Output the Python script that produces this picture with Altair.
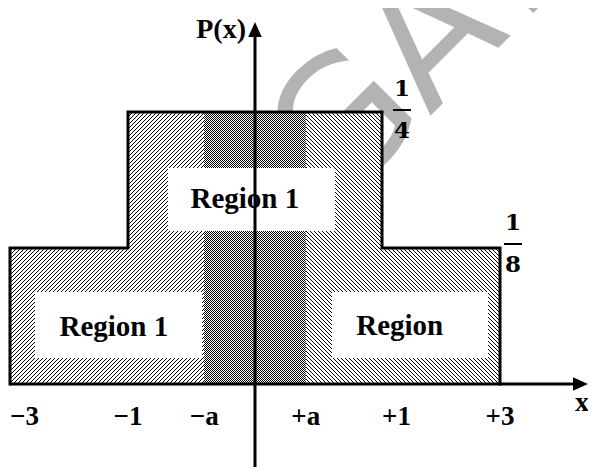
import math
import numpy as np
import pandas as pd
import altair as alt

# ---------------- data ----------------
breaks = [-3, -1, 1, 3]            # x break points of P(x)
levels = [1 / 8, 1 / 4, 1 / 8]     # P(x) on each interval
level_num = ["1", "1", "1"]
level_den = ["8", "4", "8"]
a_val = 0.4                         # half width of the shaded band
tick_values = [-3, -1, -a_val, a_val, 1, 3]
tick_labels = ["−3", "−1", "−a", "+a", "+1", "+3"]
tick_align = ["left", "center", "center", "center", "left", "center"]

region_texts = ["Region 1", "Region 1", "Region"]
region_x = [-0.08, -1.24, 1.30]
region_y = [0.162, 0.044, 0.045]
box_x0 = [-0.685, -2.576, 0.606]
box_x1 = [0.630, -0.417, 2.797]
box_y0 = [0.1406, 0.0239, 0.0239]
box_y1 = [0.1985, 0.0846, 0.0846]

# ---------------- layout / style ----------------
W, H = 580, 459
X_DOM, X_RNG = [-3, -1, 1, 3], [2, 120, 374, 492]
Y_DOM, Y_RNG = [0, 0.25], [376, 104]
xs = alt.Scale(domain=X_DOM, range=X_RNG, zero=False, nice=False)
ys = alt.Scale(domain=Y_DOM, range=Y_RNG, zero=False, nice=False)
SERIF = "Liberation Serif"


def px(v):
    return float(np.interp(v, X_DOM, X_RNG))


def py(v):
    return float(np.interp(v, Y_DOM, Y_RNG))


def stripes(x0, y0, w, h, direction, period, on, phase=0.5):
    """Linear gradient that draws diagonal stripes inside a w x h box."""
    S = w + h
    L = (w * w + h * h) / S
    if direction == "/":
        g = dict(x1=0, y1=0, x2=w / L, y2=h / L)
        s0 = x0 + y0
    else:
        g = dict(x1=1, y1=0, x2=1 - w / L, y2=h / L)
        s0 = y0 - x0 - w
    m = (s0 - phase) % period
    cur = "#000000" if m < on else "#ffffff"
    stops = [{"offset": 0, "color": cur}]
    k0 = math.floor((s0 - phase) / period) - 1
    k1 = math.ceil((s0 + S - phase) / period) + 1
    ev = []
    for k in range(k0, k1 + 1):
        b = phase + k * period - s0
        ev.append((b, "#000000"))
        ev.append((b + on, "#ffffff"))
    ev.sort()
    for s, col in ev:
        if 0 < s < S and col != cur:
            t = s / S
            stops.append({"offset": t, "color": cur})
            stops.append({"offset": t, "color": col})
            cur = col
    stops.append({"offset": 1, "color": cur})
    return {"gradient": "linear", "stops": stops, **g}


layers = []

# watermark
wm = alt.Chart(pd.DataFrame({"t": ["GATE"]})).mark_text(
    font="DejaVu Sans", fontSize=170, color="#b3b3b3", angle=315,
    align="center", baseline="middle"
).encode(text="t:N", x=alt.value(450), y=alt.value(8))
layers.append(wm)

# hatched rectangles
pieces = [(breaks[0], breaks[1], levels[0], "/"), (breaks[1], 0, levels[1], "/"),
          (0, breaks[2], levels[1], "\\"), (breaks[2], breaks[3], levels[2], "\\")]
for xa, xb, lvl, d in pieces:
    x0p, x1p, y0p, y1p = px(xa), px(xb), py(lvl), py(0)
    grad = stripes(x0p, y0p, x1p - x0p, y1p - y0p, d, 4, 1)
    df = pd.DataFrame({"x": [xa], "x2": [xb], "y": [0], "y2": [lvl]})
    layers.append(alt.Chart(df).mark_rect(fill=grad).encode(
        x=alt.X("x:Q", scale=xs, axis=None), x2="x2",
        y=alt.Y("y:Q", scale=ys, axis=None), y2="y2"))

# checkered band -a .. +a
x0p, x1p, y0p, y1p = px(-a_val), px(a_val), py(levels[1]), py(0)
grad = stripes(x0p, y0p, x1p - x0p, y1p - y0p, "/", 2, 1)
dfb = pd.DataFrame({"x": [-a_val], "x2": [a_val], "y": [0], "y2": [levels[1]]})
layers.append(alt.Chart(dfb).mark_rect(fill=grad).encode(
    x=alt.X("x:Q", scale=xs, axis=None), x2="x2",
    y=alt.Y("y:Q", scale=ys, axis=None), y2="y2"))

# white label boxes
dfbox = pd.DataFrame({"x": box_x0, "x2": box_x1, "y": box_y0, "y2": box_y1})
layers.append(alt.Chart(dfbox).mark_rect(fill="white").encode(
    x=alt.X("x:Q", scale=xs, axis=None), x2="x2",
    y=alt.Y("y:Q", scale=ys, axis=None), y2="y2"))

# region texts
dfr = pd.DataFrame({"x": region_x, "y": region_y, "t": region_texts})
layers.append(alt.Chart(dfr).mark_text(
    font=SERIF, fontWeight="bold", fontSize=29, color="black",
    align="center", baseline="alphabetic").encode(
    x=alt.X("x:Q", scale=xs, axis=None), y=alt.Y("y:Q", scale=ys, axis=None), text="t:N"))

# outline of P(x)
pts = [(breaks[0], 0.0)]
for i, lvl in enumerate(levels):
    pts += [(breaks[i], lvl), (breaks[i + 1], lvl)]
pts.append((breaks[-1], 0.0))
dfo = pd.DataFrame({"x": [p[0] for p in pts], "y": [p[1] for p in pts], "o": list(range(len(pts)))})
layers.append(alt.Chart(dfo).mark_line(color="black", strokeWidth=3, strokeJoin="miter", strokeCap="square").encode(
    x=alt.X("x:Q", scale=xs, axis=None), y=alt.Y("y:Q", scale=ys, axis=None), order="o:Q"))

# axes
layers.append(alt.Chart().mark_rule(color="black", strokeWidth=3).encode(
    x=alt.X(datum=breaks[0], scale=xs, axis=None), x2=alt.value(566),
    y=alt.Y(datum=0, scale=ys, axis=None)))
layers.append(alt.Chart().mark_rule(color="black", strokeWidth=3).encode(
    x=alt.X(datum=0, scale=xs, axis=None), y=alt.value(H), y2=alt.value(28)))
layers.append(alt.Chart().mark_point(shape="M0,-0.45L1,0L0,0.45Z", size=900, filled=True,
                                     color="black", opacity=1, strokeWidth=0).encode(
    x=alt.value(565), y=alt.Y(datum=0, scale=ys, axis=None)))
layers.append(alt.Chart().mark_point(shape="M0,-1L0.45,0L-0.45,0Z", size=900, filled=True,
                                     color="black", opacity=1, strokeWidth=0).encode(
    x=alt.X(datum=0, scale=xs, axis=None), y=alt.value(29)))

# tick labels
dft = pd.DataFrame({"x": tick_values, "t": tick_labels, "al": tick_align})
for al in ["left", "center"]:
    layers.append(alt.Chart(dft).transform_filter(alt.datum.al == al).mark_text(
        font=SERIF, fontWeight="bold", fontSize=27, color="black",
        align=al, baseline="alphabetic", dy=41).encode(
        x=alt.X("x:Q", scale=xs, axis=None), y=alt.Y(datum=0, scale=ys, axis=None), text="t:N"))

# axis titles
layers.append(alt.Chart(pd.DataFrame({"t": ["x"]})).mark_text(
    font=SERIF, fontWeight="bold", fontSize=28, color="black", align="center",
    baseline="alphabetic", dy=27).encode(
    x=alt.value(574), y=alt.Y(datum=0, scale=ys, axis=None), text="t:N"))
layers.append(alt.Chart(pd.DataFrame({"t": ["P(x)"]})).mark_text(
    font=SERIF, fontWeight="bold", fontSize=28, color="black", align="right",
    baseline="alphabetic", dx=-9).encode(
    x=alt.X(datum=0, scale=xs, axis=None), y=alt.value(30), text="t:N"))

# fraction labels 1/4 and 1/8
frac_style = {1: dict(dx=20, num=-16, bar=-2, den=26), 3: dict(dx=13, num=-18, bar=-4, den=24)}
for i, (xa, lvl) in enumerate([(breaks[2], levels[1]), (breaks[3], levels[2])]):
    st = frac_style[xa]
    k = 1 if i == 0 else 2
    for txt, dy in [(level_num[k], st["num"]), (level_den[k], st["den"])]:
        layers.append(alt.Chart(pd.DataFrame({"t": [txt]})).mark_text(
            font="DejaVu Serif", fontWeight="bold", fontSize=23, color="black",
            align="center", baseline="alphabetic", dx=st["dx"], dy=dy).encode(
            x=alt.X(datum=xa, scale=xs, axis=None), y=alt.Y(datum=lvl, scale=ys, axis=None), text="t:N"))
    layers.append(alt.Chart().mark_rule(color="black", strokeWidth=2,
                                        xOffset=st["dx"] - 9, x2Offset=st["dx"] + 9, yOffset=st["bar"]).encode(
        x=alt.X(datum=xa, scale=xs, axis=None), x2=alt.X2(datum=xa),
        y=alt.Y(datum=lvl, scale=ys, axis=None)))

chart = alt.layer(*layers).properties(
    width=W, height=H, padding=0,
    autosize=alt.AutoSizeParams(type="none"),
).configure_view(stroke=None)

chart.save("out.html", embed_options={"renderer": "svg", "actions": False})
